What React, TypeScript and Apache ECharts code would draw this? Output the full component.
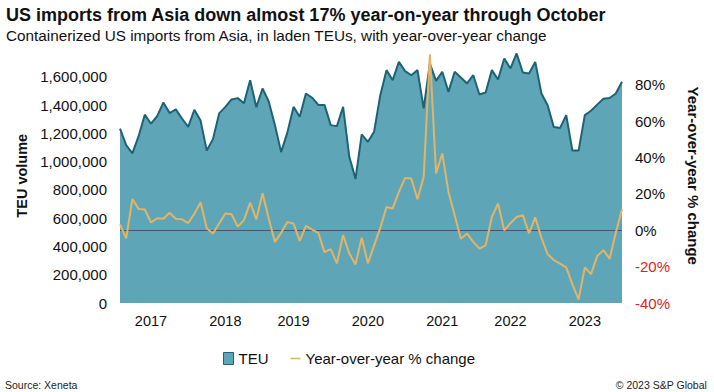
import React, { useEffect, useRef } from "react";
import * as echarts from "echarts";

const teuVolume = [
  1234000, 1117000, 1058000, 1180000, 1332000, 1268000, 1322000, 1418000, 1343000, 1369000,
  1305000, 1246000, 1367000, 1290000, 1078000, 1159000, 1341000, 1387000, 1440000, 1449000,
  1413000, 1576000, 1385000, 1517000, 1426000, 1258000, 1067000, 1205000, 1387000, 1317000,
  1482000, 1452000, 1401000, 1401000, 1258000, 1251000, 1387000, 1034000, 878000, 1193000,
  1140000, 1211000, 1470000, 1647000, 1576000, 1705000, 1640000, 1611000, 1647000, 1376000,
  1694000, 1571000, 1635000, 1493000, 1635000, 1595000, 1553000, 1611000, 1475000, 1489000,
  1647000, 1581000, 1729000, 1659000, 1765000, 1630000, 1623000, 1705000, 1482000, 1399000,
  1244000, 1237000, 1329000, 1078000, 1078000, 1329000, 1360000, 1403000, 1444000, 1450000,
  1482000, 1565000,
];

const yoyChange = [
  3.3, -4.4, 17.2, 11.7, 11.5, 4.3, 6.6, 6.4, 9.6, 6.4,
  6.0, 4.0, 9.0, 15.4, 1.1, -1.8, 3.7, 9.2, 8.8, 2.0,
  5.6, 15.2, 6.0, 20.4, 6.4, -6.4, -1.4, 4.5, 3.7, -5.8,
  2.4, 0.4, -1.4, -12.0, -10.4, -18.2, -2.6, -12.8, -18.8, -4.1,
  -18.2, -8.3, 1.3, 12.8, 12.0, 21.1, 28.8, 28.5, 17.1, 29.4,
  96.8, 31.2, 42.3, 21.1, 8.3, -4.6, -1.8, -6.4, -10.1, -8.3,
  7.3, 14.7, 0.0, 3.9, 7.3, 8.3, -1.7, 7.1, -4.1, -13.2,
  -16.4, -18.3, -20.4, -29.8, -38.0, -20.4, -24.1, -14.2, -10.9, -15.6,
  -1.4, 11.7,
];

const yearLabels = ["2017", "2018", "2019", "2020", "2021", "2022", "2023"];
const yearLabelIndex = [5, 17, 28, 40, 52, 63, 75];

const FONT = "'Liberation Sans', Arial, Helvetica, sans-serif";
const TEXT = "#111111";

export default function App() {
  const ref = useRef<HTMLDivElement>(null);

  useEffect(() => {
    if (!ref.current) return;
    const chart = echarts.init(ref.current, undefined, { renderer: "svg" });
    const periods = teuVolume.map((_, i) => String(i));

    chart.setOption({
      animation: false,
      backgroundColor: "#ffffff",
      textStyle: { fontFamily: FONT },
      title: [
        {
          text: "US imports from Asia down almost 17% year-on-year through October",
          left: 1,
          top: 1,
          textStyle: { fontFamily: FONT, fontSize: 18, fontWeight: "bold", color: TEXT },
        },
        {
          text: "Containerized US imports from Asia, in laden TEUs, with year-over-year change",
          left: 1,
          top: 23,
          textStyle: { fontFamily: FONT, fontSize: 15.3, fontWeight: "normal", color: TEXT },
        },
        {
          text: "Source: Xeneta",
          left: 0,
          top: 374,
          textStyle: { fontFamily: FONT, fontSize: 10.5, fontWeight: "normal", color: "#222" },
        },
        {
          text: "© 2023 S&P Global",
          right: 2,
          top: 374,
          textStyle: { fontFamily: FONT, fontSize: 10.5, fontWeight: "normal", color: "#222" },
        },
      ],
      legend: {
        left: 218,
        top: 346,
        itemWidth: 10,
        itemHeight: 12,
        itemGap: 22,
        textStyle: { fontFamily: FONT, fontSize: 15, color: TEXT },
        data: [
          {
            name: "TEU",
            icon: "rect",
            itemStyle: { color: "#5fa5b8", borderColor: "#1f6276", borderWidth: 1 },
          },
          {
            name: "Year-over-year % change",
            icon: "path://M0 0H10V1.6H0Z",
            itemStyle: { color: "#e2b566" },
          },
        ],
      },
      grid: { left: 120, right: 92, top: 48.5, bottom: 89 },
      xAxis: {
        type: "category",
        data: periods,
        boundaryGap: false,
        axisLine: { show: false },
        axisTick: { show: false },
        splitLine: { show: false },
        axisLabel: {
          interval: (idx: number) => yearLabelIndex.includes(idx),
          formatter: (_v: string, idx: number) => {
            const k = yearLabelIndex.indexOf(idx);
            return k >= 0 ? yearLabels[k] : "";
          },
          fontFamily: FONT,
          fontSize: 14.5,
          color: TEXT,
          margin: 10,
        },
      },
      yAxis: [
        {
          type: "value",
          min: 0,
          max: 1800000,
          interval: 200000,
          name: "TEU volume",
          nameLocation: "middle",
          nameGap: 89,
          nameTextStyle: { fontFamily: FONT, fontSize: 14.5, fontWeight: "bold", color: TEXT },
          axisLine: { show: false },
          axisTick: { show: false },
          splitLine: { show: false },
          axisLabel: {
            fontFamily: FONT,
            fontSize: 15,
            color: TEXT,
            margin: 13,
            formatter: (v: number) => (v >= 1800000 ? "" : v.toLocaleString("en-US")),
          },
        },
        {
          type: "value",
          min: -40,
          max: 100,
          interval: 20,
          position: "right",
          name: "Year-over-year % change",
          nameLocation: "middle",
          nameRotate: -90,
          nameGap: 64,
          nameTextStyle: { fontFamily: FONT, fontSize: 15, fontWeight: "bold", color: TEXT },
          axisLine: { show: false },
          axisTick: { show: false },
          splitLine: { show: false },
          axisLabel: {
            fontFamily: FONT,
            fontSize: 15,
            margin: 13,
            color: (v: any) => (Number(v) < 0 ? "#d3281f" : TEXT),
            formatter: (v: number) => (v >= 100 ? "" : v + "%"),
          },
        },
      ],
      series: [
        {
          name: "TEU",
          type: "line",
          yAxisIndex: 0,
          data: teuVolume,
          symbol: "none",
          lineStyle: { color: "#1f6276", width: 2 },
          itemStyle: { color: "#5fa5b8" },
          areaStyle: { color: "#5fa5b8", opacity: 1 },
          z: 1,
        },
        {
          name: "Year-over-year % change",
          type: "line",
          yAxisIndex: 1,
          data: yoyChange,
          symbol: "none",
          lineStyle: { color: "#e2b566", width: 2 },
          itemStyle: { color: "#e2b566" },
          z: 3,
          markLine: {
            silent: true,
            symbol: "none",
            label: { show: false },
            lineStyle: { color: "#3e5157", width: 1, type: "solid", opacity: 0.9 },
            emphasis: { disabled: true },
            data: [{ yAxis: 0 }],
            z: 2,
          },
        },
      ],
    });

    return () => chart.dispose();
  }, []);

  return (
    <div
      ref={ref}
      style={{ position: "fixed", left: 0, top: 0, width: 714, height: 392 }}
    />
  );
}
